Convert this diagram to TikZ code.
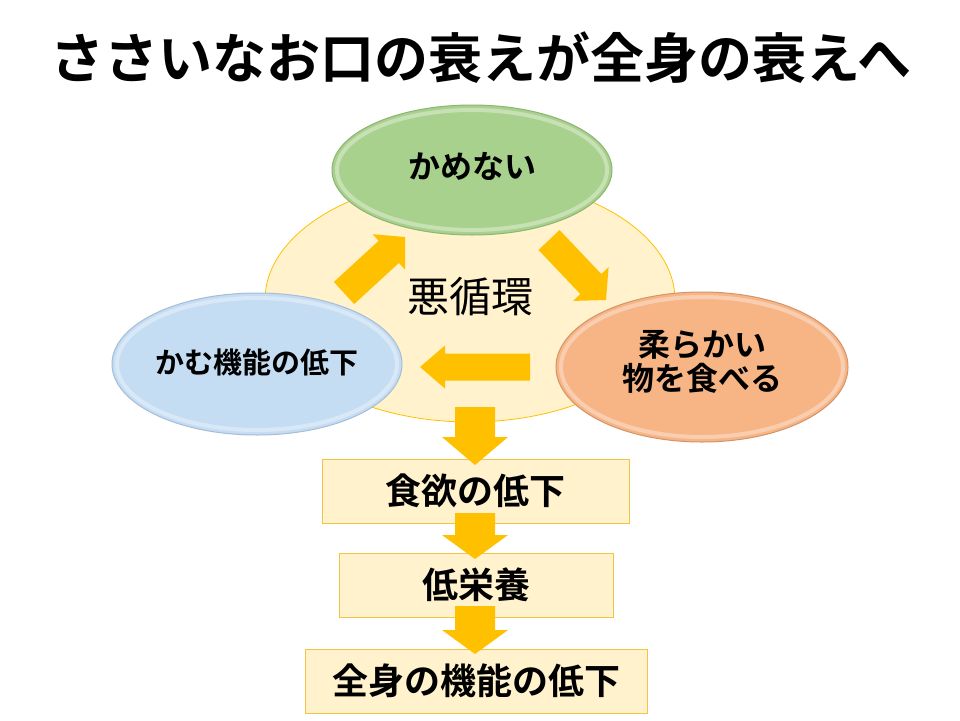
\documentclass[tikz,border=0pt]{standalone}
\usepackage{fontspec}
\setmainfont{Noto Sans CJK JP}[BoldFont={Noto Sans CJK JP Bold}]
\usetikzlibrary{shapes.geometric,calc}
\definecolor{arrowc}{HTML}{FFC000}
\definecolor{paleY}{HTML}{FFF2CC}
\definecolor{boxline}{HTML}{F5C242}
\definecolor{greenF}{HTML}{A9D18E}
\definecolor{greenD}{HTML}{8DB572}
\definecolor{blueF}{HTML}{C5DDF3}
\definecolor{blueD}{HTML}{A5BDD5}
\definecolor{orangeF}{HTML}{F7B586}
\definecolor{orangeD}{HTML}{D39468}
\tikzset{
  arrowfill/.style={fill=arrowc},
  bubble/.style={ellipse, inner sep=0pt, font=\bfseries\fontsize{32}{34}\selectfont, align=center},
  stepbox/.style={rectangle, draw=boxline, line width=1pt, fill=paleY, inner sep=0pt, font=\bfseries\fontsize{36}{40}\selectfont},
}
\newcommand\blockarrow[5]{%
  \coordinate (ba-h) at ($(#2)!#5!(#1)$);
  \fill[arrowfill] ($(#1)!#3!90:(#2)$) -- ($(ba-h)!#3!-90:(#1)$) -- ($(ba-h)!#4!-90:(#1)$) -- (#2) -- ($(ba-h)!#4!90:(#1)$) -- ($(ba-h)!#3!90:(#1)$) -- ($(#1)!#3!-90:(#2)$) -- cycle;}
\newcommand\bevel[4]{% center, rx, ry, colour prefix
  \fill[#4F] (#1) ellipse [x radius=#2, y radius=#3];
  \draw[white, opacity=0.35, line width=4pt] (#1) ellipse [x radius=#2-5, y radius=#3-5];
  \draw[#4D, line width=1pt] (#1) ellipse [x radius=#2, y radius=#3];}
\begin{document}
\begin{tikzpicture}[x=1pt,y=-1pt]
\useasboundingbox (0,0) rectangle (960,720);
\fill[white] (0,0) rectangle (960,720);
% title
\node[font=\bfseries\fontsize{54}{58}\selectfont] (title) at (481,58) {ささいなお口の衰えが全身の衰えへ};
% vicious circle background
\node[ellipse, draw=arrowc, line width=0.8pt, fill=paleY, minimum width=410pt, minimum height=244pt, inner sep=0pt] (ring) at (470,300) {};
% cycle arrows
\coordinate (a1t) at (344,293); \coordinate (a1h) at (405,237);
\coordinate (a2t) at (549,240); \coordinate (a2h) at (606,300);
\coordinate (a3t) at (530,367); \coordinate (a3h) at (420,367);
\blockarrow{a1t}{a1h}{15pt}{24pt}{22pt}
\blockarrow{a2t}{a2h}{14.5pt}{24.5pt}{22pt}
\blockarrow{a3t}{a3h}{13.5pt}{21.5pt}{25pt}
% ellipses
\bevel{472,170}{140}{65}{green}
\node[bubble, minimum width=280pt, minimum height=130pt] (kamenai) at (472,166) {かめない};
\bevel{257,364}{145}{71}{blue}
\node[bubble, minimum width=290pt, minimum height=142pt, font=\bfseries\fontsize{29}{33}\selectfont] (kamu) at (257,362) {かむ機能の低下};
\bevel{702,367}{146}{75}{orange}
\node[bubble, minimum width=292pt, minimum height=150pt] (yawa) at (702,362) {柔らかい\\物を食べる};
\node[font=\fontsize{42}{46}\selectfont] (aku) at (470,297) {悪循環};
% boxes
\node[stepbox, minimum width=307pt, minimum height=64pt] (b1) at (475.5,491) {食欲の低下};
\node[stepbox, minimum width=274pt, minimum height=64pt] (b2) at (476,585) {低栄養};
\node[stepbox, minimum width=342pt, minimum height=64pt] (b3) at (476,681) {全身の機能の低下};
% down arrows
\coordinate (d1t) at (475,407); \coordinate (d1h) at (475,465);
\coordinate (d2t) at (475,513); \coordinate (d2h) at (475,559);
\coordinate (d3t) at (475,606); \coordinate (d3h) at (475,654);
\blockarrow{d1t}{d1h}{20pt}{33pt}{28pt}
\blockarrow{d2t}{d2h}{20pt}{33pt}{24pt}
\blockarrow{d3t}{d3h}{20pt}{33pt}{24pt}
\end{tikzpicture}
\end{document}
